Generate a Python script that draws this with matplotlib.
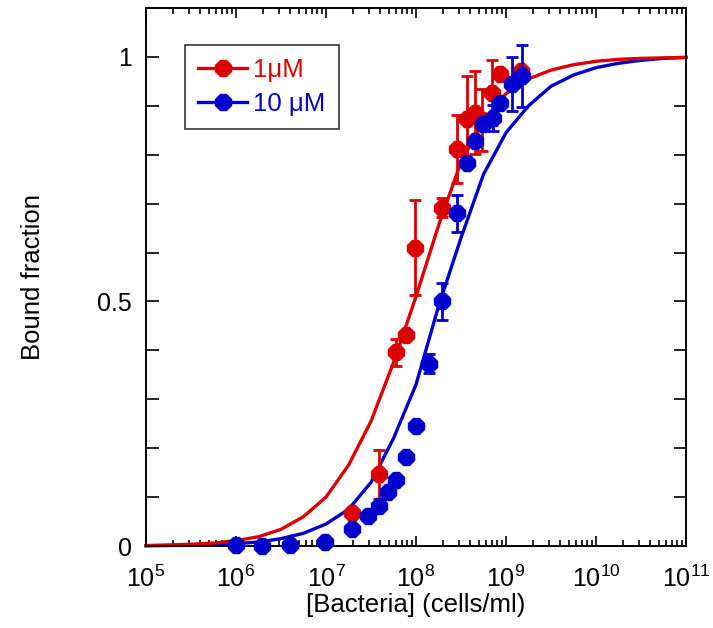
import numpy as np
import matplotlib
matplotlib.use("Agg")
import matplotlib.pyplot as plt
from matplotlib.lines import Line2D
from matplotlib.ticker import LogLocator, MultipleLocator, FixedLocator

plt.rcParams['font.family'] = ['Liberation Sans', 'DejaVu Sans']
plt.rcParams['mathtext.fontset'] = 'custom'
plt.rcParams['mathtext.rm'] = 'Liberation Sans'

RED = '#DC0000'
BLUE = '#0000CC'

# ---- data: 1 uM ----
red_x = [1.94e7, 3.9e7, 6.0e7, 7.7e7, 9.8e7, 1.94e8, 2.86e8, 3.69e8, 4.5e8,
         5.4e8, 7.0e8, 8.6e8, 1.45e9]
red_y = [0.067, 0.147, 0.396, 0.431, 0.610, 0.692, 0.812, 0.873, 0.886,
         0.871, 0.927, 0.965, 0.972]
red_err = [0.0, 0.050, 0.027, 0.0, 0.097, 0.020, 0.070, 0.088, 0.085,
           0.063, 0.067, 0.0, 0.0]

# ---- data: 10 uM ----
blue_x = [1.0e6, 1.94e6, 3.98e6, 9.75e6, 1.94e7, 2.93e7, 3.9e7, 4.89e7, 6.0e7,
          7.7e7, 9.9e7, 1.39e8, 1.94e8, 2.86e8, 3.69e8, 4.5e8, 5.5e8, 7.2e8,
          8.6e8, 1.17e9, 1.5e9]
blue_y = [0.003, 0.0, 0.002, 0.008, 0.035, 0.061, 0.082, 0.110, 0.135,
          0.182, 0.245, 0.373, 0.500, 0.680, 0.784, 0.829, 0.863, 0.875,
          0.906, 0.945, 0.961]
blue_err = [0, 0, 0, 0, 0, 0, 0, 0, 0,
            0, 0, 0.020, 0.037, 0.037, 0, 0, 0, 0.026,
            0, 0.055, 0.063]

# ---- fitted curves (log10 of concentration) ----
fit_logx = [5.0, 5.25, 5.5, 5.75, 6.0, 6.25, 6.5, 6.75, 7.0, 7.25, 7.5, 7.75,
            8.0, 8.25, 8.5, 8.75, 9.0, 9.25, 9.5, 9.75, 10.0, 10.25, 10.5,
            10.75, 11.0]
red_fit = [0.001, 0.002, 0.0035, 0.006, 0.011, 0.019, 0.034, 0.060, 0.100,
           0.165, 0.255, 0.375, 0.510, 0.655, 0.785, 0.870, 0.925, 0.955,
           0.973, 0.984, 0.991, 0.995, 0.997, 0.998, 0.999]
blue_fit = [0.0005, 0.001, 0.0015, 0.003, 0.005, 0.008, 0.015, 0.026, 0.045,
            0.075, 0.130, 0.220, 0.330, 0.490, 0.630, 0.760, 0.845, 0.900,
            0.940, 0.963, 0.978, 0.987, 0.993, 0.997, 0.999]

legend_labels = ['1\u03bcM', '10 \u03bcM']
x_label = '[Bacteria] (cells/ml)'
y_label = 'Bound fraction'

fig = plt.figure(figsize=(7.13, 6.28), dpi=100)
ax = fig.add_axes([146/713, 1-546/628, 540/713, 538/628])

ax.plot(10**np.array(fit_logx), blue_fit, color=BLUE, lw=2.4, zorder=2, clip_on=False)
ax.plot(10**np.array(fit_logx), red_fit, color=RED, lw=2.4, zorder=2.1, clip_on=False)

def draw(xs, ys, es, color, z):
    xs = np.array(xs); ys = np.array(ys); es = np.array(es, dtype=float)
    m = es > 0
    ax.errorbar(xs[m], ys[m], yerr=es[m], fmt='none', ecolor=color,
                elinewidth=2.0, capsize=4.5, capthick=2.0, zorder=z)
    ax.plot(xs, ys, linestyle='none', marker='8', ms=13, mfc=color, mec=color,
            zorder=z + 0.05, clip_on=False)

draw(red_x, red_y, red_err, RED, 3)
draw(blue_x, blue_y, blue_err, BLUE, 4)

ax.set_xscale('log')
ax.set_xlim(1e5, 1e11)
ax.set_ylim(0, 1.1)
ax.xaxis.set_major_locator(LogLocator(base=10, numticks=20))
ax.xaxis.set_minor_locator(LogLocator(base=10, subs=np.arange(2, 10), numticks=100))
ax.yaxis.set_major_locator(FixedLocator([0, 0.5, 1]))
ax.yaxis.set_minor_locator(MultipleLocator(0.1))
ax.set_yticklabels(['0', '0.5', '1'])

ax.tick_params(which='both', direction='in', top=True, right=True, width=1.2,
               labelsize=18, colors='black')
ax.tick_params(axis='x', which='major', length=7, pad=14)
ax.tick_params(axis='x', which='minor', length=4)
ax.tick_params(axis='y', which='major', length=9, pad=10)
ax.tick_params(axis='y', which='minor', length=9)
for s in ax.spines.values():
    s.set_linewidth(1.4)

ax.set_xlabel(x_label, fontsize=18.5, labelpad=1)
ax.set_ylabel(y_label, fontsize=18.5, labelpad=38)

handles = [Line2D([], [], color=RED, lw=2.4, marker='8', ms=13),
           Line2D([], [], color=BLUE, lw=2.4, marker='8', ms=13)]
leg = ax.legend(handles, legend_labels, loc='upper left',
                bbox_to_anchor=(0.072, 0.931), borderaxespad=0, fontsize=18.5,
                frameon=True, fancybox=False, edgecolor='black',
                handlelength=1.9, handletextpad=0.25, borderpad=0.52,
                labelspacing=0.36)
leg.get_frame().set_linewidth(1.2)
for t, c in zip(leg.get_texts(), [RED, BLUE]):
    t.set_color(c)

fig.savefig('out.png', dpi=100)
